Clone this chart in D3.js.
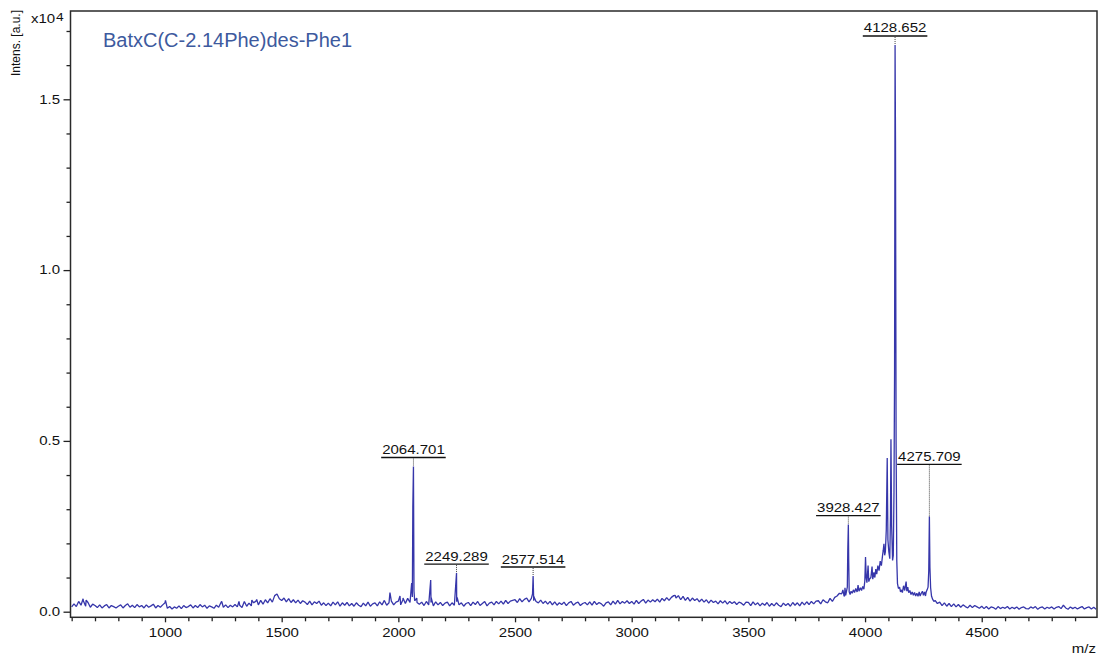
<!DOCTYPE html>
<html lang="en">
<head>
<meta charset="UTF-8">
<title>BatxC spectrum</title>
<script src="https://d3js.org/d3.v7.min.js"></script>
<style>
  body { margin: 0; background: #ffffff; }
  text { font-family: "Liberation Sans", Arial, sans-serif; fill: #111; }
</style>
</head>
<body>
<div id="chart"></div>
<script>
// sample name shown in the top-left corner
const sampleName = "BatxC(C-2.14Phe)des-Phe1";

// baseline, read every 10 m/z, from 600 to 3890
const lowStart = 600;
const baseLow = [
  140, 230, 150, 300, 190, 320, 160, 270, 130, 220,
  180, 120, 200, 110, 170, 210, 110, 180, 150, 110,
  160, 200, 110, 180, 230, 130, 190, 120, 210, 140,
  180, 110, 200, 130, 170, 220, 110, 180, 130, 200,
  260, 100, 150, 80, 140, 100, 170, 90, 180, 120,
  150, 200, 110, 180, 120, 210, 140, 190, 100, 170,
  140, 100, 190, 130, 270, 130, 200, 120, 190, 140,
  210, 140, 190, 120, 300, 160, 250, 170, 260, 310,
  200, 330, 220, 350, 260, 380, 280, 470, 520, 380,
  330, 400, 290, 380, 270, 350, 260, 340, 240, 320,
  280, 210, 310, 200, 290, 240, 310, 190, 260, 180,
  250, 170, 280, 200, 290, 160, 260, 190, 270, 170,
  240, 160, 260, 190, 150, 250, 170, 280, 160, 230,
  260, 170, 290, 200, 330, 190, 260, 310, 200, 280,
  310, 200, 360, 240, 390, 270, 430, 320, 270, 220,
  280, 180, 300, 200, 270, 170, 290, 200, 270, 180,
  250, 280, 170, 260, 190, 290, 200, 260, 160, 240,
  270, 180, 280, 210, 300, 180, 240, 300, 170, 250,
  280, 200, 300, 230, 310, 220, 330, 240, 310, 330,
  350, 270, 380, 290, 360, 400, 290, 390, 320, 300,
  260, 340, 240, 310, 220, 300, 200, 290, 190, 260,
  210, 280, 180, 260, 300, 190, 250, 280, 180, 240,
  270, 200, 290, 190, 300, 210, 270, 230, 160, 260,
  290, 200, 310, 220, 330, 230, 300, 250, 320, 240,
  300, 220, 330, 240, 310, 360, 250, 340, 280, 350,
  290, 370, 280, 390, 320, 410, 330, 420, 470, 400,
  470, 350, 450, 330, 420, 310, 400, 330, 380, 290,
  370, 280, 350, 250, 340, 270, 310, 230, 320, 250,
  320, 220, 300, 240, 290, 210, 280, 250, 190, 280,
  270, 180, 290, 200, 260, 170, 250, 190, 270, 160,
  240, 170, 260, 190, 150, 250, 180, 240, 160, 270,
  190, 260, 170, 280, 200, 290, 210, 300, 230, 310,
  320, 230, 350, 290, 260, 390, 300, 420, 460, 540
];

// baseline after the main cluster, from 4300 to 4990
const highStart = 4300;
const baseHigh = [
  330, 240, 280, 180, 260, 160, 240, 150, 230, 140,
  210, 130, 200, 150, 110, 190, 120, 180, 140, 100,
  160, 90, 150, 80, 140, 120, 70, 150, 90, 130,
  100, 150, 80, 130, 90, 140, 70, 120, 140, 90,
  80, 140, 100, 150, 70, 120, 140, 80, 130, 100,
  140, 80, 130, 150, 90, 190, 110, 70, 140, 90,
  130, 80, 120, 150, 80, 120, 140, 80, 130, 70
];
const gridStep = 10;

// the peak cluster between 3900 and 4300
const clusterMz = [
  3900, 3905, 3910, 3912, 3914, 3917, 3920, 3924, 3926, 3928.427,
  3930, 3932, 3936, 3940, 3945, 3950, 3955, 3960, 3966, 3970,
  3974, 3980, 3985, 3990, 3995, 3999, 4002, 4005, 4008, 4013,
  4016, 4020, 4025, 4030, 4033, 4038, 4042, 4046, 4050, 4055,
  4060, 4065, 4070, 4075, 4078, 4081, 4084, 4087, 4091, 4095,
  4098, 4102, 4106, 4109, 4111, 4114, 4118, 4121, 4124, 4126.5,
  4128.652, 4130.5, 4133, 4136, 4139, 4143, 4148, 4152, 4156, 4160,
  4165, 4170, 4174, 4176, 4179, 4183, 4187, 4192, 4197, 4202,
  4207, 4212, 4217, 4222, 4227, 4232, 4236, 4241, 4246, 4250,
  4255, 4259, 4262, 4266, 4270, 4273, 4275.709, 4278, 4281, 4285,
  4290, 4295
];
const clusterInt = [
  520, 640, 460, 450, 700, 480, 580, 720, 1800, 2550,
  1500, 580, 500, 600, 540, 640, 560, 680, 580, 780,
  600, 700, 620, 740, 660, 900, 1600, 1000, 850, 1350,
  880, 960, 1000, 1320, 950, 1150, 1000, 1250, 1100, 1350,
  1200, 1480, 1350, 1650, 1800, 1990, 1650, 1750, 2400, 4500,
  2100, 1750, 1550, 2800, 5050, 2500, 1500, 1650, 3500, 7000,
  16590, 13800, 5000, 1500, 820, 680, 720, 580, 640, 560,
  760, 620, 800, 880, 600, 720, 560, 620, 500, 580,
  480, 560, 460, 540, 450, 580, 460, 540, 600, 480,
  580, 460, 580, 640, 720, 1200, 2790, 1300, 700, 450,
  360, 300
];

// isolated spikes on the baseline
const spikeMz = [
  649, 662, 1002, 1243, 1317, 1372, 1393, 1964, 2007, 2020,
  2057, 2062, 2064.701, 2067, 2079, 2138.6, 2141, 2249.289, 2252, 2575,
  2577.514, 2580, 3186
];
const spikeInt = [
  380, 340, 330, 300, 300, 340, 360, 560, 460, 400,
  840, 3050, 4250, 600, 400, 925, 400, 1130, 420, 520,
  1045, 450, 480
];

// annotated peaks
const labelMz = [2064.701, 2249.289, 2577.514, 3928.427, 4128.652, 4275.709];

// axis ticks
const xMajor = [1000, 1500, 2000, 2500, 3000, 3500, 4000, 4500];
const yMajor = [0, 5000, 10000, 15000];

// ---- layout ----
const W = 1103, H = 656;
const plotLeft = 70.5, plotRight = 1097, plotTop = 11, plotBottom = 617.3;
const textStretch = 1.25;

const svg = d3.select("#chart")
  .append("svg")
  .attr("width", W)
  .attr("height", H);

const x = d3.scaleLinear().domain([595, 4994]).range([plotLeft, plotRight]);
const y = d3.scaleLinear().domain([-164, 17585]).range([plotBottom, plotTop]);

// merge everything into one trace
let points = [];
baseLow.forEach((v, i) => points.push([lowStart + i * gridStep, v]));
baseHigh.forEach((v, i) => points.push([highStart + i * gridStep, v]));
clusterMz.forEach((m, i) => points.push([m, clusterInt[i]]));
spikeMz.forEach((m, i) => points.push([m, spikeInt[i]]));
points.sort((a, b) => a[0] - b[0]);

svg.append("clipPath").attr("id", "plotclip")
  .append("rect")
  .attr("x", plotLeft).attr("y", plotTop)
  .attr("width", plotRight - plotLeft).attr("height", plotBottom - plotTop);

// x axis ticks
const minorX = d3.range(600, 5000, 100).filter(d => xMajor.indexOf(d) < 0);
svg.append("g")
  .attr("transform", `translate(0,${plotBottom})`)
  .call(d3.axisBottom(x).tickValues(minorX).tickSize(4).tickFormat(""))
  .call(g => g.select(".domain").remove())
  .call(g => g.selectAll("line").attr("stroke", "#222").attr("stroke-width", 1.3));

svg.append("g")
  .attr("transform", `translate(0,${plotBottom})`)
  .call(d3.axisBottom(x).tickValues(xMajor).tickSize(5).tickPadding(6).tickFormat(d3.format("d")))
  .call(g => g.select(".domain").remove())
  .call(g => g.selectAll("line").attr("stroke", "#222").attr("stroke-width", 1.3))
  .call(g => g.selectAll("text")
    .attr("font-size", 12)
    .attr("font-family", "Liberation Sans, Arial, sans-serif")
    .attr("fill", "#111")
    .attr("transform", `scale(${textStretch},1)`));

// y axis ticks
const minorY = d3.range(1000, 18000, 1000).filter(d => yMajor.indexOf(d) < 0);
svg.append("g")
  .attr("transform", `translate(${plotLeft},0)`)
  .call(d3.axisLeft(y).tickValues(minorY).tickSize(4).tickFormat(""))
  .call(g => g.select(".domain").remove())
  .call(g => g.selectAll("line").attr("stroke", "#222").attr("stroke-width", 1.3));

svg.append("g")
  .attr("transform", `translate(${plotLeft},0)`)
  .call(d3.axisLeft(y).tickValues(yMajor).tickSize(7).tickFormat(d => (d / 1e4).toFixed(1)))
  .call(g => g.select(".domain").remove())
  .call(g => g.selectAll("line").attr("stroke", "#222").attr("stroke-width", 1.3))
  .call(g => g.selectAll("text")
    .attr("x", 0)
    .attr("font-size", 12)
    .attr("font-family", "Liberation Sans, Arial, sans-serif")
    .attr("fill", "#111")
    .attr("transform", `translate(-10.5,0) scale(${textStretch},1)`));

// spectrum trace
const line = d3.line().x(d => x(d[0])).y(d => y(d[1]));
svg.append("path")
  .datum(points)
  .attr("clip-path", "url(#plotclip)")
  .attr("d", line)
  .attr("fill", "none")
  .attr("stroke", "#3636aa")
  .attr("stroke-width", 1.3)
  .attr("stroke-linejoin", "bevel");

// frame
svg.append("rect")
  .attr("x", plotLeft).attr("y", plotTop)
  .attr("width", plotRight - plotLeft).attr("height", plotBottom - plotTop)
  .attr("fill", "none")
  .attr("stroke", "#2a2a2a")
  .attr("stroke-width", 1.5);

// peak labels: underline sits ~9px above the peak top, 4275.709 is lifted higher
const labelGap = { "4275.709": 52 };
const lookup = new Map(points.map(p => [p[0], p[1]]));
labelMz.forEach(m => {
  const px = x(m);
  const py = y(lookup.get(m));
  const uy = py - (labelGap[String(m)] || 9);
  const t = svg.append("text")
    .attr("transform", `translate(${px},${uy - 3.5}) scale(${textStretch},1)`)
    .attr("text-anchor", "middle")
    .attr("font-size", 12)
    .text(m.toFixed(3));
  const tw = t.node().getComputedTextLength() * textStretch;
  svg.append("line")
    .attr("x1", px - tw / 2 - 1).attr("x2", px + tw / 2 + 1)
    .attr("y1", uy).attr("y2", uy)
    .attr("stroke", "#111").attr("stroke-width", 1.3);
  svg.append("line")
    .attr("x1", px).attr("x2", px)
    .attr("y1", uy + 1).attr("y2", py)
    .attr("stroke", "#444").attr("stroke-width", 1)
    .attr("stroke-dasharray", "1,1");
});

// title inside plot
svg.append("text")
  .attr("x", 103).attr("y", 47)
  .attr("font-size", 20)
  .style("fill", "#3d5a9e")
  .text(sampleName);

// y axis label and exponent
svg.append("text")
  .attr("transform", "translate(20,10) rotate(-90)")
  .attr("text-anchor", "end")
  .attr("font-size", 12)
  .text("Intens. [a.u.]");

svg.append("text")
  .attr("transform", `translate(31,23.3) scale(${textStretch},1)`)
  .attr("font-size", 12)
  .text("x10");
svg.append("text")
  .attr("transform", `translate(56,20.5) scale(${textStretch},1)`)
  .attr("font-size", 11)
  .text("4");

// x axis unit
svg.append("text")
  .attr("transform", `translate(1096,652.5) scale(${textStretch},1)`)
  .attr("text-anchor", "end")
  .attr("font-size", 12)
  .text("m/z");
</script>
</body>
</html>
